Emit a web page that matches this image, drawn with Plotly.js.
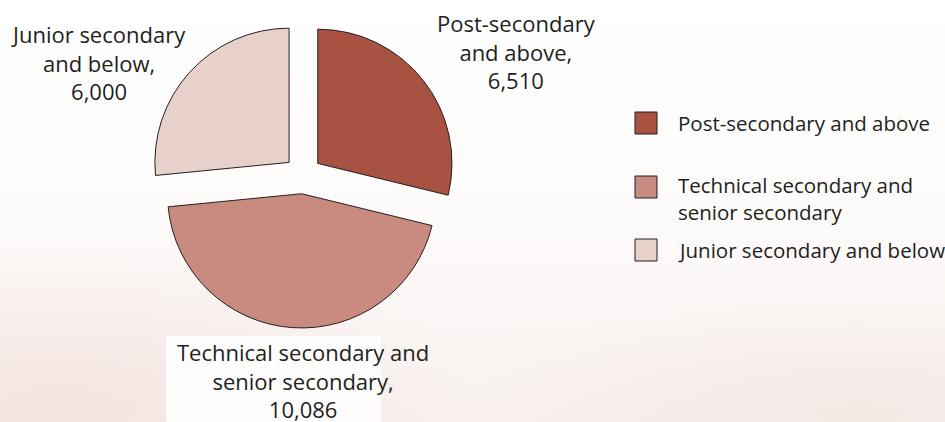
<!DOCTYPE html>
<html>
<head>
<meta charset="utf-8">
<script src="https://cdn.plot.ly/plotly-3.0.1.min.js"></script>
<style>
  html, body { margin: 0; padding: 0; }
  body {
    width: 945px; height: 422px; overflow: hidden;
    background:
      radial-gradient(ellipse 420px 160px at 60px 400px, rgba(240,218,212,0.55), rgba(255,255,255,0) 100%),
      radial-gradient(ellipse 400px 120px at 860px 410px, rgba(240,222,216,0.45), rgba(255,255,255,0) 100%),
      linear-gradient(to bottom, #ffffff 0%, #fdfbfa 50%, #f8f1ef 100%);
  }
  #chart { width: 945px; height: 422px; }
</style>
</head>
<body>
<div id="chart"></div>
<script>
const categories = ['Post-secondary and above', 'Technical secondary and senior secondary', 'Junior secondary and below'];
const values = [6510, 10086, 6000];
const sliceLabels = ['Post-secondary<br>and above,', 'Technical secondary and<br>senior secondary,', 'Junior secondary<br>and below,'];
const legendLabels = ['Post-secondary and above', 'Technical secondary and<br>senior secondary', 'Junior secondary and below'];
const colors = ['#a85341', '#c98b80', '#e8d1cb'];

const W = 945, H = 422;
const px = x => x / W;
const py = y => 1 - y / H;

const labelPos = [
  { x: 516, y: 52 },
  { x: 303, y: 380 },
  { x: 98, y: 63 }
];
const legendSquareY = [123, 187, 250];
const legendTextY = [123, 198, 250];

const annotations = [];
const shapes = [];

// faint white panel behind bottom label (from reference background)
shapes.push({ type: 'rect', xref: 'paper', yref: 'paper', layer: 'below',
  x0: px(166), x1: px(381), y0: py(422), y1: py(336),
  fillcolor: 'rgba(255,255,255,0.85)', line: { width: 0 } });

categories.forEach((c, i) => {
  annotations.push({
    xref: 'paper', yref: 'paper', x: px(labelPos[i].x), y: py(labelPos[i].y),
    xanchor: 'center', yanchor: 'middle', align: 'center', showarrow: false,
    text: sliceLabels[i] + '<br>' + values[i].toLocaleString('en-US'),
    font: { family: 'Open Sans, sans-serif', size: 22, color: '#231f20' }
  });
  shapes.push({
    type: 'rect', xref: 'paper', yref: 'paper',
    x0: px(635), x1: px(657), y0: py(legendSquareY[i] + 11), y1: py(legendSquareY[i] - 11),
    fillcolor: colors[i], line: { color: '#231f20', width: 1 }
  });
  annotations.push({
    xref: 'paper', yref: 'paper', x: px(676), y: py(legendTextY[i]),
    xanchor: 'left', yanchor: 'middle', align: 'left', showarrow: false,
    text: legendLabels[i],
    font: { family: 'Open Sans, sans-serif', size: 20.5, color: '#231f20' }
  });
});

const data = [{
  type: 'pie',
  labels: categories,
  values: values,
  sort: false,
  direction: 'clockwise',
  rotation: 0,
  pull: 0.14,
  textinfo: 'none',
  hoverinfo: 'label+value',
  showlegend: false,
  marker: { colors: colors, line: { color: '#231f20', width: 1 } },
  domain: { x: [px(150), px(456)], y: [py(328), py(22)] }
}];

const layout = {
  width: W, height: H,
  margin: { l: 0, r: 0, t: 0, b: 0 },
  paper_bgcolor: 'rgba(0,0,0,0)',
  plot_bgcolor: 'rgba(0,0,0,0)',
  showlegend: false,
  annotations: annotations,
  shapes: shapes
};

Plotly.newPlot('chart', data, layout, { displayModeBar: false, staticPlot: true });
</script>
</body>
</html>
